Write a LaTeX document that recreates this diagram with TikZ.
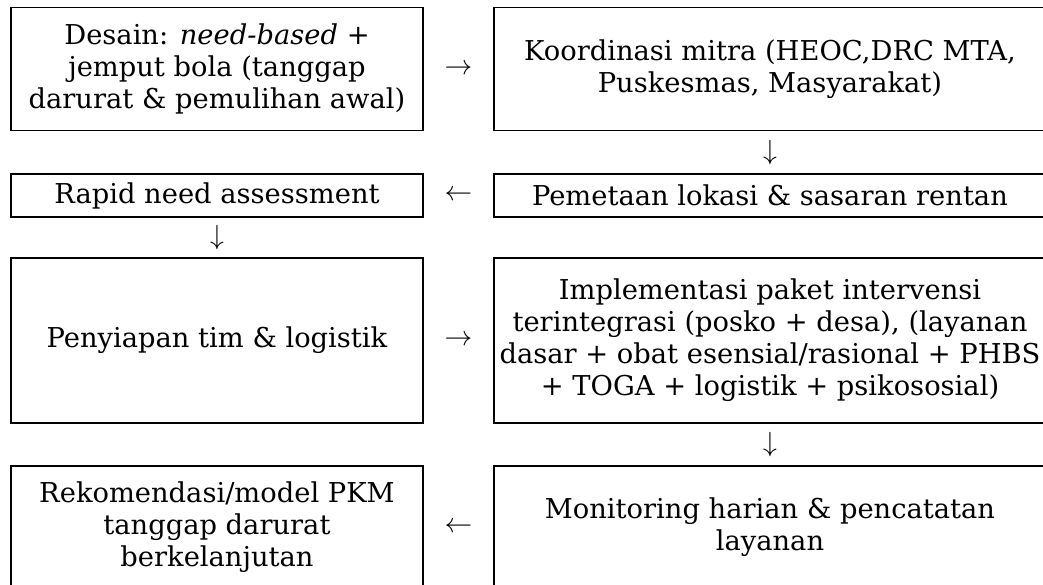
\documentclass[tikz,border=0pt]{standalone}
\usepackage{fontspec}
\setmainfont{DejaVu Serif}
\usetikzlibrary{positioning, calc}

\begin{document}
\begin{tikzpicture}[
    x=0.75pt,
    y=-0.75pt,
    box/.style={
      rectangle,
      draw,
      line width=1.2pt,
      minimum height=#1,
      inner sep=0pt,
      align=center,
      font=\fontsize{20.5}{24}\selectfont
    },
    leftbox/.style={box=#1, minimum width=309pt},
    rightbox/.style={box=#1, minimum width=414pt},
    flow/.style={font=\fontsize{21}{21}\selectfont}
]

% Bidang gambar (kanan dan bawah terpotong)
\path[use as bounding box, clip] (0,0) rectangle (1043,585);

% Kolom kiri
\node[leftbox=92.25pt] (desain) at (217,69) {Desain: \textit{need-based} +\\jemput bola (tanggap\\darurat \& pemulihan awal)};
\node[leftbox=32.25pt] (rapid) at (217,195.5) {Rapid need assessment};
\node[leftbox=123.75pt] (penyiapan) at (217,340.5) {Penyiapan tim \& logistik};
\node[leftbox=91.5pt] (rekomendasi) at (217,527) {Rekomendasi/model PKM\\tanggap darurat\\berkelanjutan};

% Kolom kanan
\node[rightbox=92.25pt] (koordinasi) at (770,69) {Koordinasi mitra (HEOC,DRC MTA,\\Puskesmas, Masyarakat)};
\node[rightbox=32.25pt] (pemetaan) at (770,195.5) {Pemetaan lokasi \& sasaran rentan};
\node[rightbox=123.75pt] (implementasi) at (770,340.5) {Implementasi paket intervensi\\terintegrasi (posko + desa), (layanan\\dasar + obat esensial/rasional + PHBS\\+ TOGA + logistik + psikososial)};
\node[rightbox=91.5pt] (monitoring) at (770,527) {Monitoring harian \& pencatatan\\layanan};

% Panah alur (tanda panah di antara kotak)
\node[flow] (alur1) at ($(desain.east)!0.5!(koordinasi.west)$) {$\rightarrow$};
\node[flow] (alur2) at ($(koordinasi.south)!0.5!(pemetaan.north)$) {$\downarrow$};
\node[flow] (alur3) at ($(rapid.east)!0.5!(pemetaan.west)$) {$\leftarrow$};
\node[flow] (alur4) at ($(rapid.south)!0.5!(penyiapan.north)$) {$\downarrow$};
\node[flow] (alur5) at ($(penyiapan.east)!0.5!(implementasi.west)$) {$\rightarrow$};
\node[flow] (alur6) at ($(implementasi.south)!0.5!(monitoring.north)$) {$\downarrow$};
\node[flow] (alur7) at ($(rekomendasi.east)!0.5!(monitoring.west)$) {$\leftarrow$};

\end{tikzpicture}
\end{document}
